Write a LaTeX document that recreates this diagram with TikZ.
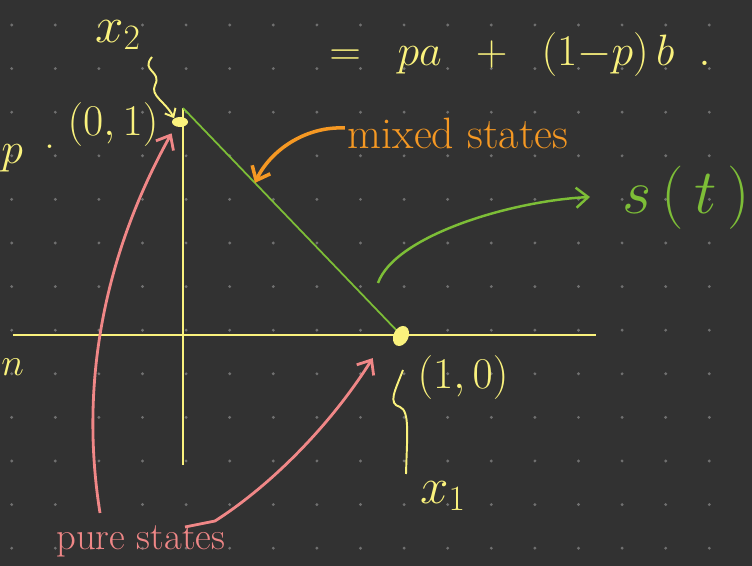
\RequirePackage{fix-cm}
\documentclass[tikz,border=0pt]{standalone}
\usetikzlibrary{arrows.meta,calc,shapes.geometric}
\definecolor{board}{RGB}{50,50,50}
\definecolor{griddot}{RGB}{112,112,112}
\definecolor{chalkyellow}{RGB}{250,242,125}
\definecolor{chalkorange}{RGB}{245,152,35}
\definecolor{chalkgreen}{RGB}{125,190,55}
\definecolor{chalkpink}{RGB}{240,135,135}

\begin{document}
\begin{tikzpicture}[
  big/.style={inner sep=0pt,font=\fontsize{25}{30}\selectfont},
  mid/.style={inner sep=0pt,font=\fontsize{22}{26}\selectfont},
  barb/.style={-{Straight Barb[length=2.4mm,width=4mm]}},
  blob/.style={ellipse,fill=chalkyellow,inner sep=0pt}]
\fill[board] (0,0) rectangle (15.04,11.32);
\useasboundingbox (0,0) rectangle (15.04,11.32);
\foreach \i in {0,...,16}
  \foreach \j in {0,...,12}
    \fill[griddot] (0.234+0.872*\i,10.82-0.872*\j) circle (0.032);
% axes
\draw[chalkyellow,line width=1.1pt] (0.26,4.62) -- (11.92,4.62);
\draw[chalkyellow,line width=1.1pt] (3.66,9.16) -- (3.66,2.02);
% simplex edge
\coordinate (e2) at (3.66,9.16);
\coordinate (e1) at (8.02,4.62);
\draw[chalkgreen,line width=1pt] (e2) -- (e1);
\node[blob,minimum width=0.32cm,minimum height=0.2cm] (dotA) at (3.6,8.88) {};
\node[blob,minimum width=0.3cm,minimum height=0.42cm,rotate=-25] (dotB) at (8.02,4.6) {};
% yellow labels
\node[big,chalkyellow,font=\fontsize{29}{34}\selectfont] (x2) at (2.36,10.62) {$x_2$};
\node[big,chalkyellow] (pA) at (2.26,8.82) {$(0,1)$};
\node[big,chalkyellow] (pB) at (9.26,3.76) {$(1,0)$};
\node[big,chalkyellow,font=\fontsize{29}{34}\selectfont] (x1) at (8.86,1.4) {$x_1$};
\node[big,chalkyellow,anchor=west] (pcut) at (0.02,8.16) {$p$};
\node[big,chalkyellow] (pdot) at (1.0,8.38) {.};
\node[mid,chalkyellow,anchor=west] (ncut) at (0.02,3.98) {$n$};
\node[big,chalkyellow] (eq) at (10.4,10.22) {$=\;\;pa\;\;+\;\;(1{-}p)\,b\;\;.$};
\draw[chalkyellow,line width=1.1pt,-{Straight Barb[length=1.4mm,width=2.4mm]}]
  (3.04,10.18) .. controls (2.8,9.9) and (3.25,9.9) .. (3.1,9.62)
  .. controls (3.0,9.4) and (3.3,9.3) .. (dotA.north west);
\coordinate (brA) at (8.06,3.92);
\draw[chalkyellow,line width=1.1pt] (brA) .. controls (7.9,3.5) and (7.75,3.25) .. (8.0,3.18)
  .. controls (8.2,3.1) and (8.14,2.6) .. (8.12,1.84);
% mixed states
\node[big,chalkorange] (mixed) at (9.16,8.66) {mixed states};
\coordinate (mixpt) at ($(e2)!0.33!(e1)$);
\draw[chalkorange,line width=2pt,barb] (mixed.west) ++(-0.05,0.1) .. controls (6.1,8.8) and (5.4,8.3) .. (mixpt);
% s(t)
\node[inner sep=0pt,font=\fontsize{36}{40}\selectfont,chalkgreen] (st) at (13.72,7.36) {$s\,(\,t\,)$};
\coordinate (stA) at (7.56,5.66);
\coordinate (stB) at (11.8,7.38);
\draw[chalkgreen,line width=1.4pt,barb] (stA) .. controls (7.9,6.6) and (10.2,7.3) .. (stB);
% pure states
\node[mid,chalkpink] (pure) at (2.82,0.5) {pure states};
\coordinate (pu1) at (2.0,1.06);
\coordinate (pu2) at (4.3,0.9);
\draw[chalkpink,line width=1.6pt,barb] (pu1) .. controls (1.5,4.2) and (2.4,6.8) .. ($(dotA.south west)+(-0.05,-0.15)$);
\draw[chalkpink,line width=1.6pt,barb] (3.7,0.78) -- (pu2) .. controls (5.4,1.6) and (6.6,2.8) .. ($(dotB.south west)+(-0.4,-0.35)$);
\end{tikzpicture}
\end{document}
